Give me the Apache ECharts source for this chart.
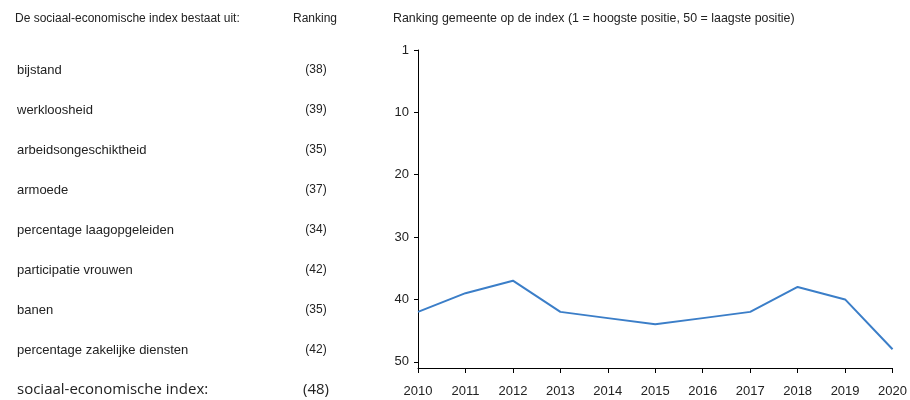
<!DOCTYPE html>
<html><head><meta charset="utf-8">
<script src="https://cdn.jsdelivr.net/npm/echarts@6/dist/echarts.min.js"></script>
<style>html,body{margin:0;padding:0;background:#fff}#c{width:910px;height:400px}</style>
</head><body><div id="c"></div>
<script>
// ---- data ----
const years = ['2010','2011','2012','2013','2014','2015','2016','2017','2018','2019','2020'];
const ranking = [42, 39, 37, 42, 43, 44, 43, 42, 38, 40, 48];
const components = ['bijstand','werkloosheid','arbeidsongeschiktheid','armoede','percentage laagopgeleiden','participatie vrouwen','banen','percentage zakelijke diensten'];
const componentRanks = [38, 39, 35, 37, 34, 42, 35, 42];
const indexLabel = 'sociaal-economische index:';
const indexRank = 48;
const yTickValues = [0, 10, 20, 30, 40, 50];
const leftHeader = 'De sociaal-economische index bestaat uit:';
const rankHeader = 'Ranking';
const chartTitle = 'Ranking gemeente op de index (1 = hoogste positie, 50 = laagste positie)';

// ---- layout ----
const FONT = "'Liberation Sans', Arial, sans-serif";
const txt = '#222';
const graphics = [];
graphics.push({type:'text', x:15, y:19, style:{text:leftHeader, font:'12px '+FONT, fill:txt, verticalAlign:'middle'}});
graphics.push({type:'text', x:315, y:19, style:{text:rankHeader, font:'12px '+FONT, fill:txt, align:'center', verticalAlign:'middle'}});
const rowY0 = 70, rowStep = 40;
components.forEach((name, i) => {
  const y = rowY0 + i * rowStep;
  graphics.push({type:'text', x:17, y:y, style:{text:name, font:'13px '+FONT, fill:txt, verticalAlign:'middle'}});
  graphics.push({type:'text', x:316, y:y, style:{text:'(' + componentRanks[i] + ')', font:'12px '+FONT, fill:txt, align:'center', verticalAlign:'middle'}});
});
const lastY = rowY0 + components.length * rowStep;
graphics.push({type:'text', x:17, y:lastY, style:{text:indexLabel, font:"15px 'Open Sans', 'Noto Sans', sans-serif", fill:txt, verticalAlign:'middle'}});
graphics.push({type:'text', x:316, y:lastY, style:{text:'(' + indexRank + ')', font:"15px 'Open Sans', 'Noto Sans', sans-serif", fill:txt, align:'center', verticalAlign:'middle'}});
graphics.push({type:'text', x:393, y:19, style:{text:chartTitle, font:'12.4px '+FONT, fill:txt, verticalAlign:'middle'}});

const chart = echarts.init(document.getElementById('c'));
chart.setOption({
  animation: false,
  backgroundColor: '#fff',
  graphic: graphics,
  grid: {left: 418, right: 17, top: 50, bottom: 32, containLabel: false},
  xAxis: {
    type: 'category', data: years, boundaryGap: false, position: 'bottom',
    axisLine: {onZero: false, lineStyle: {color: '#000', width: 1}},
    axisTick: {show: true, length: 5, alignWithLabel: true, lineStyle: {color: '#000'}},
    axisLabel: {color: txt, fontFamily: FONT, fontSize: 13, margin: 17}
  },
  yAxis: {
    type: 'value', inverse: true, min: 0, max: 51, interval: 10,
    splitLine: {show: false},
    axisLine: {show: true, lineStyle: {color: '#000', width: 1}},
    axisTick: {show: true, length: 4, customValues: yTickValues, lineStyle: {color: '#000'}},
    axisLabel: {color: txt, fontFamily: FONT, fontSize: 13, margin: 9, customValues: yTickValues,
      formatter: v => (v === 0 ? '1' : String(v))}
  },
  series: [{
    type: 'line', data: ranking, symbol: 'none',
    lineStyle: {color: '#3b7ec8', width: 2}
  }]
});
</script></body></html>
